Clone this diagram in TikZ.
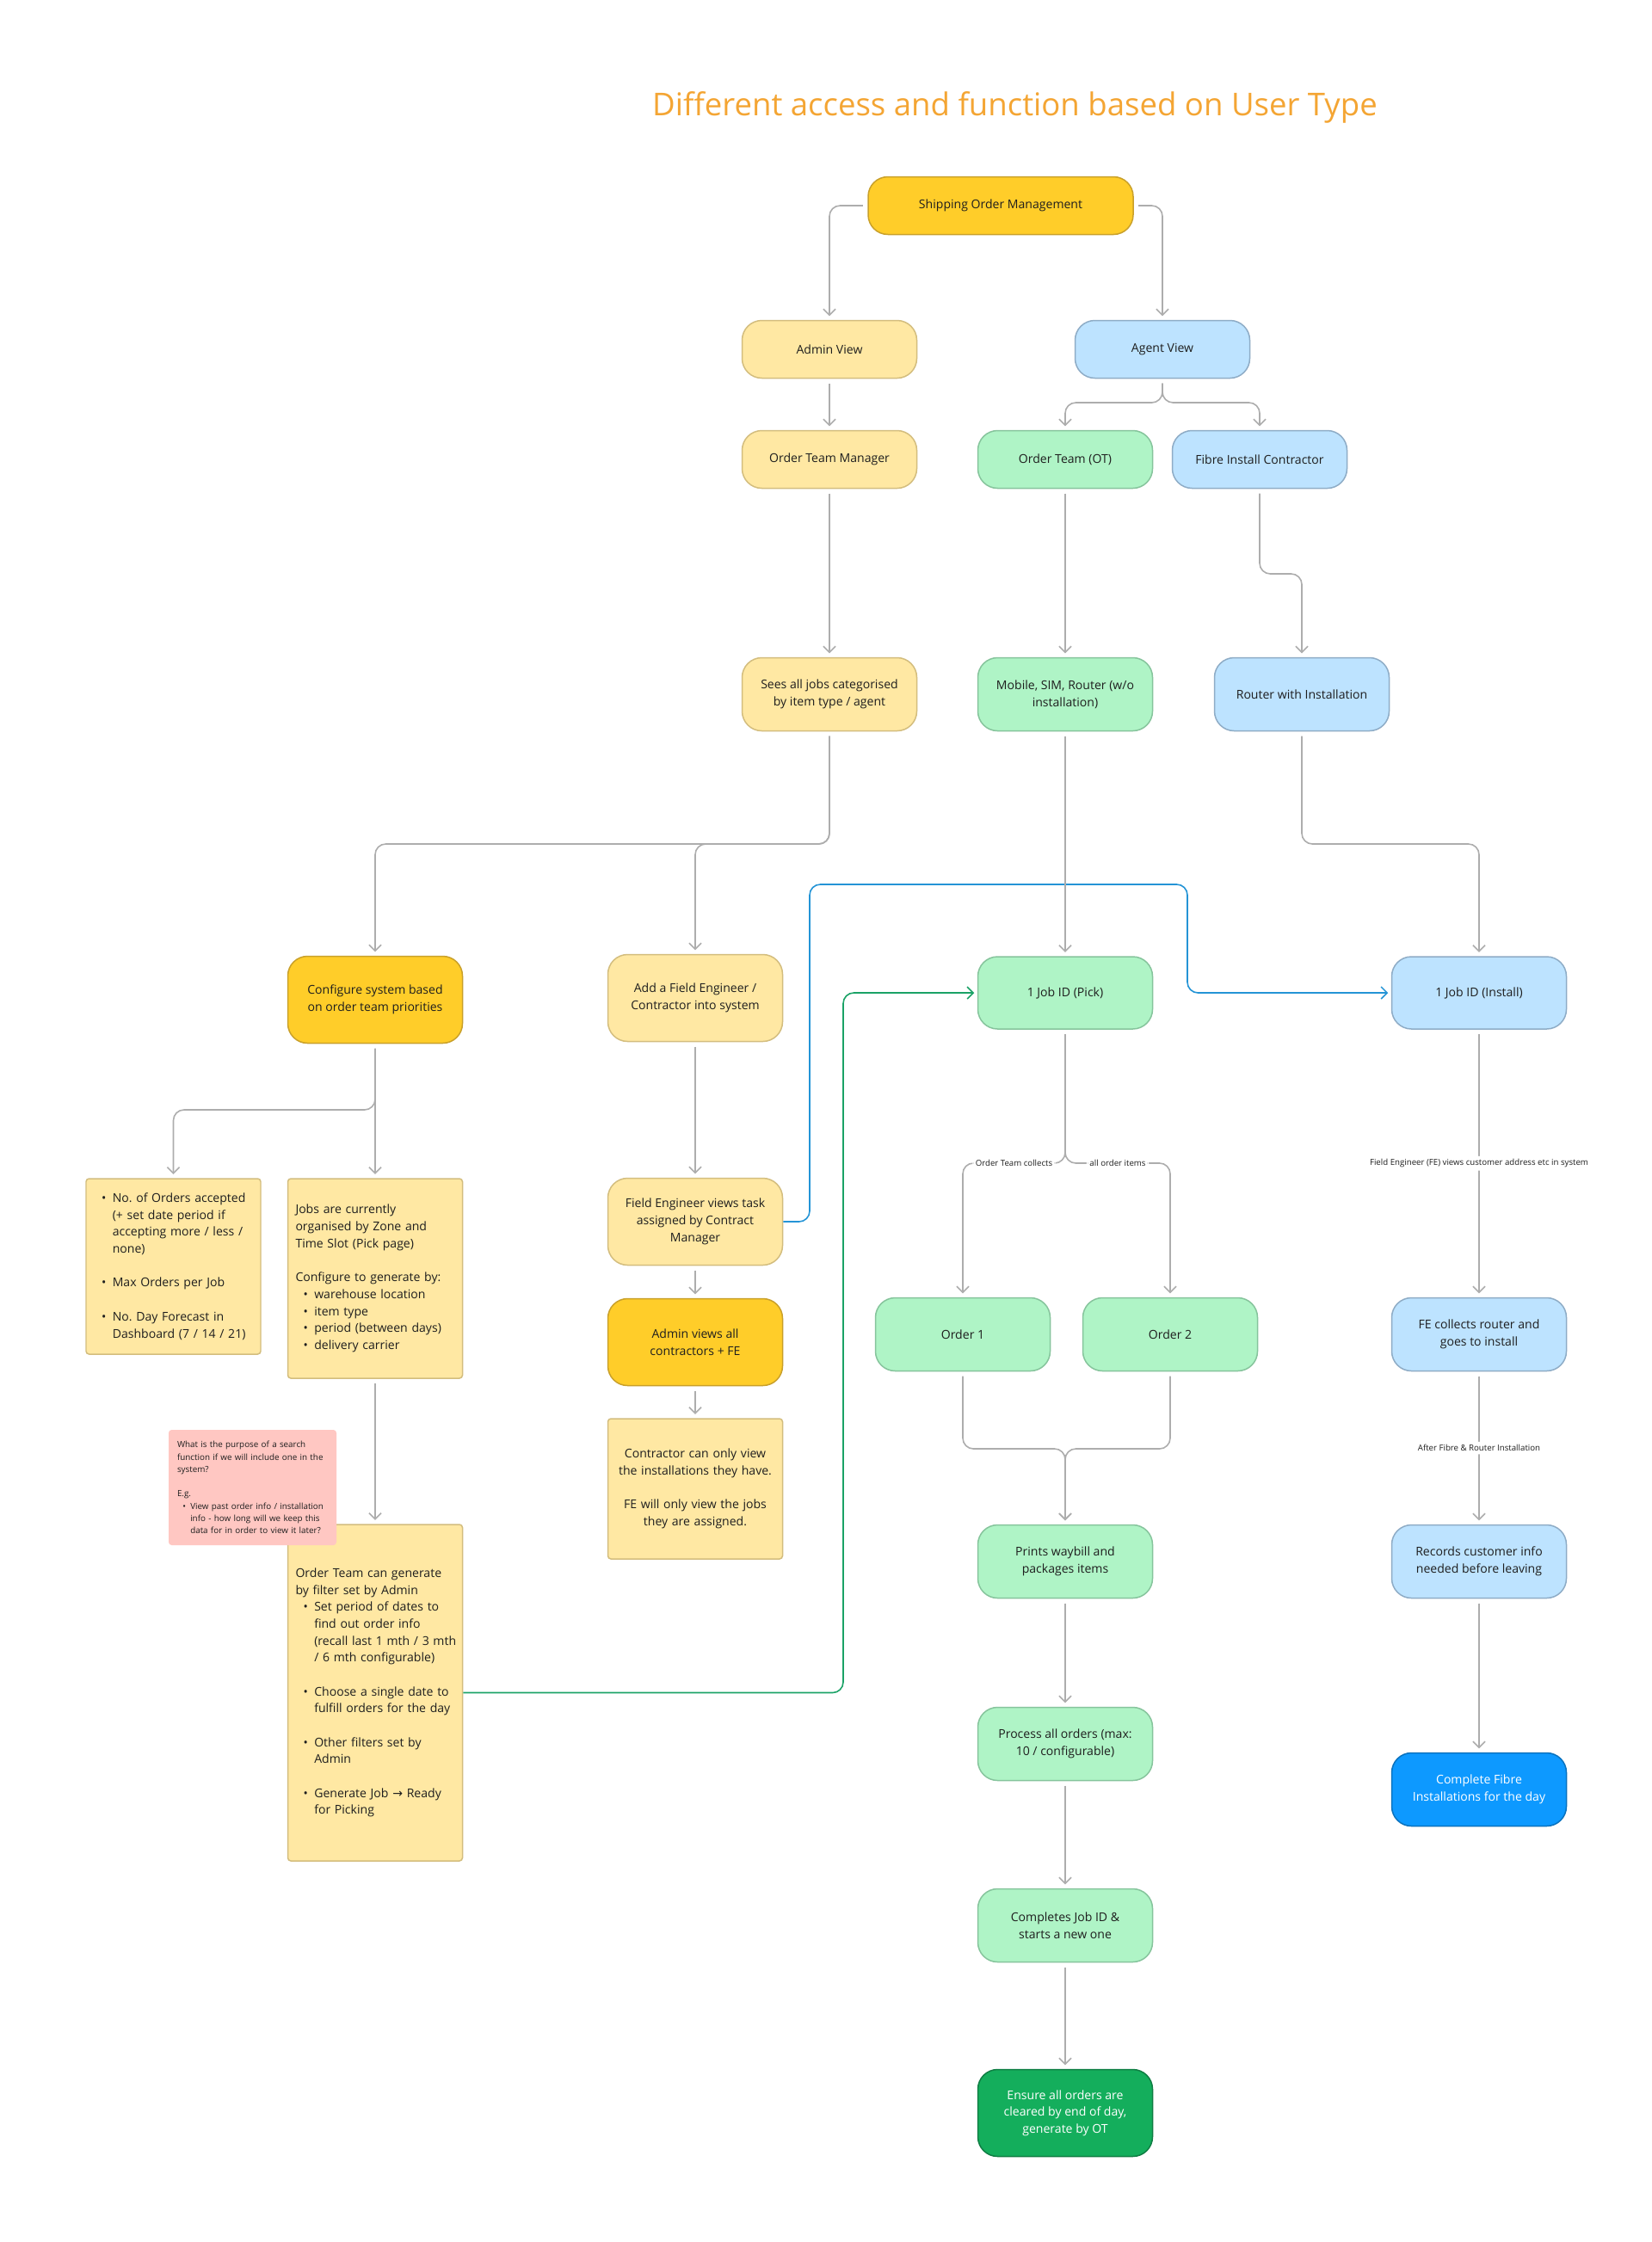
\documentclass[tikz,border=0pt]{standalone}
\usepackage{fontspec}
\setmainfont{Open Sans}
\newfontfamily\arrowfont{DejaVu Sans}
\usepackage{xcolor}
\usepackage{tikz}
\usetikzlibrary{arrows.meta, positioning, calc}
\definecolor{titleorange}{HTML}{F4A533}
\definecolor{inkdark}{HTML}{1E1E1E}
\definecolor{ylwstrong}{HTML}{FFCD29}
\definecolor{ylwstrongedge}{HTML}{C9A02A}
\definecolor{ylwsoft}{HTML}{FFE8A3}
\definecolor{ylwsoftedge}{HTML}{D3BD7E}
\definecolor{grnsoft}{HTML}{AFF4C6}
\definecolor{grnsoftedge}{HTML}{86C49C}
\definecolor{blusoft}{HTML}{BDE3FF}
\definecolor{blusoftedge}{HTML}{8EACC6}
\definecolor{blustrong}{HTML}{0D99FF}
\definecolor{blustrongedge}{HTML}{0A72BE}
\definecolor{grnstrong}{HTML}{14AE5C}
\definecolor{grnstrongedge}{HTML}{0F7E43}
\definecolor{notepink}{HTML}{FFC7C2}
\definecolor{linegray}{HTML}{ADADAD}
\definecolor{linkblue}{HTML}{2494D6}
\definecolor{linkgreen}{HTML}{1AA266}
\newcommand{\itm}{\hspace*{0.65em}\makebox[0.9em][l]{\textbullet}}
\newcommand{\ind}{\hspace*{1.55em}}
\frenchspacing

\begin{document}
\begin{tikzpicture}[
    font=\fontsize{8}{11.2}\selectfont,
    pill/.style={rectangle, rounded corners=13pt, line width=0.85pt,
                 minimum width=4.06cm, minimum height=1.34cm,
                 align=center, text=inkdark, inner sep=2pt},
    adm/.style={pill, fill=ylwsoft, draw=ylwsoftedge},
    admx/.style={pill, fill=ylwstrong, draw=ylwstrongedge},
    ord/.style={pill, fill=grnsoft, draw=grnsoftedge},
    ordx/.style={pill, fill=grnstrong, draw=grnstrongedge, text=white},
    ins/.style={pill, fill=blusoft, draw=blusoftedge},
    insx/.style={pill, fill=blustrong, draw=blustrongedge, text=white},
    txtbox/.style={rectangle, rounded corners=2pt, fill=ylwsoft, draw=ylwsoftedge,
                   line width=0.85pt, text width=3.7cm, inner xsep=0.18cm,
                   minimum width=4.06cm, align=left, text=inkdark},
    sticky/.style={rectangle, rounded corners=2pt, fill=notepink,
                   text width=3.5cm, inner xsep=0.2cm, align=left, text=inkdark,
                   font=\fontsize{5.6}{8.1}\selectfont},
    conn/.style={draw=linegray, line width=0.9pt, rounded corners=7pt,
                 -{Straight Barb[length=4pt,width=8pt]},
                 shorten >=2.5pt, shorten <=3pt},
    link/.style={line width=0.9pt, rounded corners=7pt,
                 -{Straight Barb[length=4pt,width=8pt]}, shorten >=2pt},
    lbl/.style={font=\fontsize{5.5}{6.5}\selectfont, fill=white, inner sep=2pt,
                text=inkdark}
]
\useasboundingbox (0,0) rectangle (38.4,-52.12);
\fill[white] (0,0) rectangle (38.4,-52.12);

% Title
\node[font=\fontsize{20.8}{25}\selectfont, text=titleorange] (title) at (23.59,-2.5)
    {Different access and function based on User Type};

% Top level
\node[admx, minimum width=6.16cm] (som) at (23.26,-4.78) {Shipping Order Management};
\node[adm] (admin) at (19.28,-8.12) {Admin View};
\node[ins] (agent) at (27.02,-8.12) {Agent View};

% Roles
\node[adm] (otm) at (19.28,-10.68) {Order Team Manager};
\node[ord] (ot)  at (24.76,-10.68) {Order Team (OT)};
\node[ins] (fic) at (29.28,-10.68) {Fibre Install Contractor};

\node[adm, minimum height=1.7cm] (sees)   at (19.28,-16.14) {Sees all jobs categorised\\by item type / agent};
\node[ord, minimum height=1.7cm] (mobile) at (24.76,-16.14) {Mobile, SIM, Router (w/o\\installation)};
\node[ins, minimum height=1.7cm] (router) at (30.26,-16.14) {Router with Installation};

% Admin branch
\node[admx, minimum height=2.02cm] (config) at (8.72,-23.24) {Configure system based\\on order team priorities};
\node[adm, minimum height=2.02cm]  (addfe)  at (16.16,-23.2) {Add a Field Engineer /\\Contractor into system};

\node[txtbox, minimum height=4.08cm] (limits) at (4.03,-29.44)
    {\itm No. of Orders accepted\\\ind(+ set date period if\\\ind accepting more / less /\\\ind none)\\[11.2pt]%
     \itm Max Orders per Job\\[11.2pt]%
     \itm No. Day Forecast in\\\ind Dashboard (7 / 14 / 21)};
\node[txtbox, minimum height=4.64cm] (jobs) at (8.72,-29.72)
    {Jobs are currently\\organised by Zone and\\Time Slot (Pick page)\\[11.2pt]%
     Configure to generate by:\\\itm warehouse location\\\itm item type\\\itm period (between days)\\\itm delivery carrier};
\node[txtbox, minimum height=7.82cm] (otgen) at (8.72,-39.35)
    {Order Team can generate\\by filter set by Admin\\%
     \itm Set period of dates to\\\ind find out order info\\\ind\mbox{(recall last 1 mth / 3 mth}\\\ind / 6 mth configurable)\\[11.2pt]%
     \itm Choose a single date to\\\ind fulfill orders for the day\\[11.2pt]%
     \itm Other filters set by\\\ind Admin\\[11.2pt]%
     \itm Generate Job {\arrowfont →} Ready\\\ind for Picking};
\node[sticky, minimum height=2.68cm] (note) at (5.87,-34.58)
    {What is the purpose of a search\\function if we will include one in the\\system?\\[8.1pt]%
     E.g.\\\itm View past order info / installation\\\ind info - how long will we keep this\\\ind data for in order to view it later?};

\node[adm, minimum height=2.02cm]  (fev)    at (16.16,-28.4) {Field Engineer views task\\assigned by Contract\\Manager};
\node[admx, minimum height=2.02cm] (adminv) at (16.16,-31.2) {Admin views all\\contractors + FE};
\node[txtbox, align=center, minimum height=3.26cm] (contr) at (16.16,-34.61)
    {Contractor can only view\\the installations they have.\\[11.2pt]FE will only view the jobs\\they are assigned.};

% Order team branch
\node[ord, minimum height=1.68cm] (pick)      at (24.76,-23.08) {1 Job ID (Pick)};
\node[ord, minimum height=1.7cm]  (order1)    at (22.38,-31.02) {Order 1};
\node[ord, minimum height=1.7cm]  (order2)    at (27.2,-31.02)  {Order 2};
\node[ord, minimum height=1.7cm]  (prints)    at (24.76,-36.3)  {Prints waybill and\\packages items};
\node[ord, minimum height=1.7cm]  (process)   at (24.76,-40.54) {Process all orders (max:\\10 / configurable)};
\node[ord, minimum height=1.7cm]  (completes) at (24.76,-44.76) {Completes Job ID \&\\starts a new one};
\node[ordx, minimum height=2.02cm] (ensure)   at (24.76,-49.12) {Ensure all orders are\\cleared by end of day,\\generate by OT};

% Install branch
\node[ins, minimum height=1.68cm] (install)  at (34.38,-23.08) {1 Job ID (Install)};
\node[ins, minimum height=1.7cm]  (fecol)    at (34.38,-31.02) {FE collects router and\\goes to install};
\node[ins, minimum height=1.7cm]  (records)  at (34.38,-36.3)  {Records customer info\\needed before leaving};
\node[insx, minimum height=1.7cm] (complete) at (34.38,-41.6)  {Complete Fibre\\Installations for the day};

% Splits and turns
\coordinate (agsplit)   at (27.02,-9.36);
\coordinate (ficturn)   at (29.28,-13.34);
\coordinate (seessplit) at (19.28,-19.62);
\coordinate (rtturn)    at (30.26,-19.62);
\coordinate (cfgsplit)  at (8.72,-25.8);
\coordinate (picksplit) at (24.76,-27.04);
\coordinate (omerge)    at (24.76,-33.68);
\coordinate (bl1)       at (18.82,-20.56);
\coordinate (bl2)       at (27.6,-23.08);
\coordinate (gl)        at (19.6,-23.08);

% Top
\draw[conn] (som.west) -| (admin.north);
\draw[conn] (som.east) -| (agent.north);
\draw[conn] (admin) -- (otm);
\draw[conn] (agent.south) -- (agsplit) -| (ot.north);
\draw[conn] (agent.south) -- (agsplit) -| (fic.north);
\draw[conn] (otm) -- (sees);
\draw[conn] (ot) -- (mobile);
\draw[conn] (fic.south) -- (ficturn) -| (router.north);

% Admin side
\draw[conn] (sees.south) -- (seessplit) -| (config.north);
\draw[conn] (sees.south) -- (seessplit) -| (addfe.north);
\draw[conn] (config.south) -- (cfgsplit) -| (limits.north);
\draw[conn] (config) -- (jobs);
\draw[conn] (jobs) -- (otgen);
\draw[conn] (addfe) -- (fev);
\draw[conn] (fev) -- (adminv);
\draw[conn] (adminv) -- (contr);

% Cross links
\draw[link, linkblue] (fev.east) -| (bl1) -| (bl2) -- (install.west);
\draw[link, linkgreen] (otgen.east) -| (gl) -- (pick.west);

% Order team side
\draw[conn] (mobile) -- (pick);
\draw[conn] (pick.south) -- (picksplit) -| node[lbl, pos=0.25]{Order Team collects} (order1.north);
\draw[conn] (pick.south) -- (picksplit) -| node[lbl, pos=0.25]{all order items} (order2.north);
\draw[conn] (order1.south) |- (omerge) -- (prints.north);
\draw[conn] (order2.south) |- (omerge) -- (prints.north);
\draw[conn] (prints) -- (process);
\draw[conn] (process) -- (completes);
\draw[conn] (completes) -- (ensure);

% Install side
\draw[conn] (router.south) -- (rtturn) -| (install.north);
\draw[conn] (install) -- node[lbl]{Field Engineer (FE) views customer address etc in system} (fecol);
\draw[conn] (fecol) -- node[lbl]{After Fibre \& Router Installation} (records);
\draw[conn] (records) -- (complete);

\end{tikzpicture}
\end{document}
